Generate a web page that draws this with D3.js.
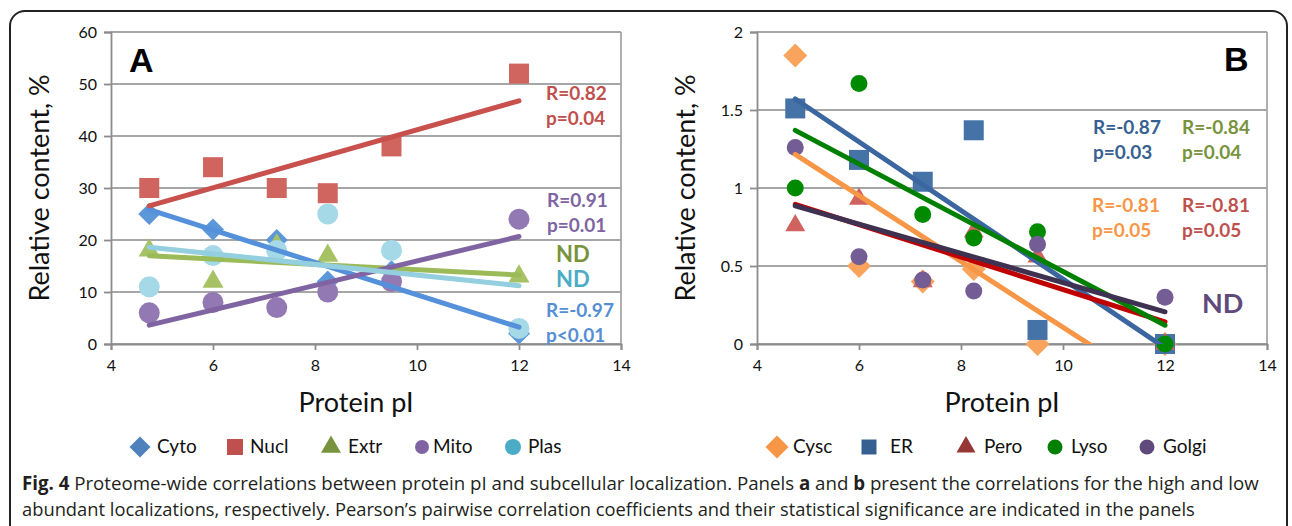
<!DOCTYPE html>
<html><head><meta charset="utf-8">
<script src="https://cdn.jsdelivr.net/npm/d3@7"></script>
<style>body{margin:0;background:#fff} svg{display:block} text{font-family:Lato,"Open Sans",sans-serif}</style>
</head><body><svg id="c" width="1292" height="526"></svg>
<script>
// ---------- data ----------
const pI = [4.75, 6, 7.25, 8.25, 9.5, 12];
const xTicks = [4, 6, 8, 10, 12, 14];
// Panel A (high abundant)
const seriesA = ["Cyto", "Nucl", "Extr", "Mito", "Plas"];
const cyto = [25, 22, 20, 12, 14, 2];
const nucl = [30, 34, 30, 29, 38, 52];
const extr = [18, 12, 19, 17, 13, 13];
const mito = [6, 8, 7, 10, 12, 24];
const plas = [11, 17, 18, 25, 18, 3];
const yTicksA = [0, 10, 20, 30, 40, 50, 60];
// Panel B (low abundant)
const seriesB = ["Cysc", "ER", "Pero", "Lyso", "Golgi"];
const cysc = [1.85, 0.5, 0.4, 0.48, 0, 0];
const er = [1.51, 1.18, 1.04, 1.37, 0.09, 0];
const pero = [0.76, 0.93, 0.4, 0.72, 0.56, 0];
const lyso = [1.0, 1.67, 0.83, 0.68, 0.72, 0];
const golgi = [1.26, 0.56, 0.41, 0.34, 0.64, 0.3];
const yTicksB = [0, 0.5, 1, 1.5, 2];
// annotations
const statsA = [["R=0.82", "p=0.04"], ["R=0.91", "p=0.01"], ["ND"], ["ND"], ["R=-0.97", "p<0.01"]];
const statsB = [["R=-0.87", "p=0.03"], ["R=-0.84", "p=0.04"], ["R=-0.81", "p=0.05"], ["R=-0.81", "p=0.05"], ["ND"]];
const captionLines = [
  [["Fig. 4", true], [" Proteome-wide correlations between protein pI and subcellular localization. Panels ", false], ["a", true], [" and ", false], ["b", true], [" present the correlations for the high and low", false]],
  [["abundant localizations, respectively. Pearson\u2019s pairwise correlation coefficients and their statistical significance are indicated in the panels", false]]
];

// ---------- styles ----------
const stylesA = [
  {v: cyto, shape: "diamond", mark: "#5b97d9", line: "#5590da", leg: "#4f81bd", size: 22},
  {v: nucl, shape: "square", mark: "#d0645e", line: "#c8514d", leg: "#c0504d", size: 20},
  {v: extr, shape: "triangle", mark: "#a6c264", line: "#9bbb59", leg: "#77933c", size: 21},
  {v: mito, shape: "circle", mark: "#9279b3", line: "#8064a2", leg: "#8064a2", size: 21},
  {v: plas, shape: "circle", mark: "#a5d9e7", line: "#93cfdf", leg: "#4bacc6", size: 21}
];
const stylesB = [
  {v: cysc, shape: "diamond", mark: "#f9a45c", line: "#f79646", leg: "#f79646", size: 24},
  {v: er, shape: "square", mark: "#4573a7", line: "#3b66a0", leg: "#376092", size: 20},
  {v: pero, shape: "triangle", mark: "#d0625f", line: "#c00000", leg: "#953735", size: 20},
  {v: lyso, shape: "circle", mark: "#008a00", line: "#008000", leg: "#008000", size: 17},
  {v: golgi, shape: "circle", mark: "#745c94", line: "#3f3151", leg: "#604a7b", size: 17}
];

const svg = d3.select("#c");
svg.append("rect").attr("x", 10).attr("y", 11).attr("width", 1277).attr("height", 600)
  .attr("rx", 15).attr("fill", "none").attr("stroke", "#222").attr("stroke-width", 2);

function symPath(shape, w) {
  if (shape === "diamond") return d3.symbol(d3.symbolSquare, (w / Math.SQRT2) ** 2)();
  if (shape === "square") return d3.symbol(d3.symbolSquare, w * w)();
  if (shape === "triangle") return d3.symbol(d3.symbolTriangle, Math.sqrt(3) / 4 * w * w)();
  return d3.symbol(d3.symbolCircle, Math.PI * (w / 2) ** 2)();
}
function fit(xs, ys) {
  const mx = d3.mean(xs), my = d3.mean(ys);
  const sxy = d3.sum(xs, (x, i) => (x - mx) * (ys[i] - my));
  const sxx = d3.sum(xs, x => (x - mx) ** 2);
  const b = sxy / sxx;
  return x => my + b * (x - mx);
}

function panel(id, x0, yMax, yTicks, styles, fmt) {
  const x = d3.scaleLinear([4, 14], [x0, x0 + 510]);
  const y = d3.scaleLinear([0, yMax], [344, 32]);
  const g = svg.append("g");
  g.append("clipPath").attr("id", "clip" + id).append("rect")
    .attr("x", x(4)).attr("y", y(yMax)).attr("width", x(14) - x(4)).attr("height", y(0) - y(yMax));
  // grid
  g.selectAll(".grid").data(yTicks).join("line")
    .attr("x1", x(4)).attr("x2", x(14)).attr("y1", d => y(d)).attr("y2", d => y(d))
    .attr("stroke", "#a6a6a6").attr("stroke-width", 1.8);
  g.append("line").attr("x1", x(14)).attr("x2", x(14)).attr("y1", y(yMax)).attr("y2", y(0))
    .attr("stroke", "#a6a6a6").attr("stroke-width", 1.8);
  // axes
  const ya = g.append("g").attr("transform", `translate(${x(4)},0)`)
    .call(d3.axisLeft(y).tickValues(yTicks).tickSize(7).tickPadding(7).tickFormat(fmt));
  const xa = g.append("g").attr("transform", `translate(0,${y(0)})`)
    .call(d3.axisBottom(x).tickValues(xTicks).tickSize(6).tickPadding(10).tickFormat(d3.format("d")));
  [ya, xa].forEach(a => {
    a.selectAll("path,line").attr("stroke", "#8c8c8c").attr("stroke-width", 1.8);
    a.selectAll("text").attr("font-size", 16).attr("fill", "#111").style("font-family", "Lato");
  });
  // markers
  styles.forEach(s => {
    g.append("g").selectAll("path").data(s.v).join("path")
      .attr("d", symPath(s.shape, s.size))
      .attr("transform", (d, i) => `translate(${x(pI[i])},${y(d)})` + (s.shape === "diamond" ? " rotate(45)" : ""))
      .attr("fill", s.mark);
  });
  // trend lines
  const lg = g.append("g").attr("clip-path", `url(#clip${id})`);
  styles.forEach(s => {
    const f = fit(pI, s.v);
    const ends = d3.extent(pI);
    lg.append("path").datum(ends)
      .attr("d", d3.line().x(d => x(d)).y(d => y(f(d))))
      .attr("stroke", s.line).attr("stroke-width", 5).attr("stroke-linecap", "round").attr("fill", "none");
  });
  // titles
  g.append("text").attr("transform", `translate(${x0 - 62},188) rotate(-90)`).attr("text-anchor", "middle")
    .attr("font-size", 27).attr("fill", "#111").text("Relative content, %");
  g.append("text").attr("x", x(4) + 245).attr("y", 412).attr("text-anchor", "middle")
    .attr("font-size", 27).attr("fill", "#111").text("Protein pI");
  return {x, y, g};
}

const A = panel("A", 111, 60, yTicksA, stylesA, d3.format("d"));
const B = panel("B", 757, 2, yTicksB, stylesB, d => String(d));

// panel letters
svg.append("text").attr("x", 129).attr("y", 72).attr("font-size", 34).attr("font-weight", 900)
  .style("font-family", "Liberation Sans").text("A");
svg.append("text").attr("x", 1224).attr("y", 71).attr("font-size", 34).attr("font-weight", 900)
  .style("font-family", "Liberation Sans").text("B");

// annotations
function ann(lines, xp, yp, color, size) {
  const t = svg.append("text").attr("x", xp).attr("y", yp).attr("font-size", size)
    .attr("font-weight", 700).attr("fill", color);
  lines.forEach((l, i) => t.append("tspan").attr("x", xp).attr("dy", i ? 25 : 0).text(l));
}
ann(statsA[0], 546, 100, "#c0504d", 19);
ann(statsA[1], 547, 207, "#8064a2", 19);
ann(statsA[2], 556, 262, "#77933c", 22);
ann(statsA[3], 556, 287, "#4bacc6", 22);
ann(statsA[4], 546, 317, "#558ed5", 19);
ann(statsB[0], 1093, 134, "#376092", 19);
ann(statsB[1], 1182, 134, "#77933c", 19);
ann(statsB[2], 1092, 212, "#f79646", 19);
ann(statsB[3], 1182, 212, "#c0504d", 19);
ann(statsB[4], 1202, 313, "#604a7b", 27);

// legends
function legend(names, styles, marks, texts, sizes) {
  names.forEach((n, i) => {
    const s = styles[i];
    svg.append("path").attr("d", symPath(s.shape, sizes[i]))
      .attr("transform", `translate(${marks[i]},447)` + (s.shape === "diamond" ? " rotate(45)" : ""))
      .attr("fill", s.leg);
    svg.append("text").attr("x", texts[i]).attr("y", 453).attr("font-size", 19).attr("fill", "#111").text(n);
  });
}
legend(seriesA, stylesA, [140, 235, 331, 422, 513], [157, 250, 348, 433, 528], [21, 16, 20, 14, 16]);
legend(seriesB, stylesB, [777, 869, 966, 1055, 1147], [793, 890, 984, 1071, 1163], [23, 15, 19, 15, 15]);

// caption: natural text, then horizontally scaled to the reference line width
const capY = [490, 516], capW = [1238, 1174];
captionLines.forEach((line, li) => {
  const t = svg.append("text").attr("x", 0).attr("y", 0).attr("font-size", 19)
    .attr("fill", "#231f20").style("font-family", "'Open Sans'");
  line.forEach(([s, b]) => t.append("tspan").attr("font-weight", b ? 700 : 400).text(s));
  const w = t.node().getComputedTextLength();
  t.attr("transform", `translate(22,${capY[li]}) scale(${capW[li] / w},1)`);
});
</script></body></html>
